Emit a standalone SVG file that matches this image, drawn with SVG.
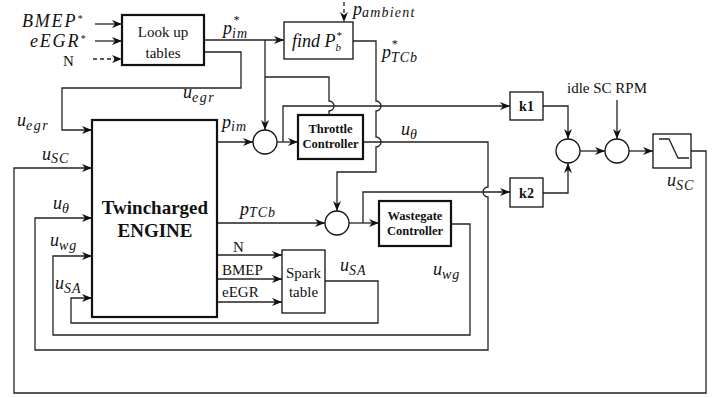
<svg xmlns="http://www.w3.org/2000/svg" width="716" height="398" viewBox="0 0 716 398">
<style>
.ln{fill:none;stroke:#222;stroke-width:1.3}
.dash{stroke-dasharray:4,3}
.bx{fill:#fff;stroke:#111;stroke-width:1.3}
.bxt{fill:#fff;stroke:#111;stroke-width:2.2}
.cir{fill:#fff;stroke:#111;stroke-width:1.3}
.m{font-family:"Liberation Serif",serif;font-style:italic;font-size:18px;fill:#111}
.s{font-size:14px}
.t{font-family:"Liberation Serif",serif;font-size:15px;fill:#111}
.b{font-family:"Liberation Serif",serif;font-weight:bold;fill:#111}
</style>
<defs>
<marker id="a" viewBox="0 0 10 10" refX="10" refY="5" markerWidth="10" markerHeight="10" markerUnits="userSpaceOnUse" orient="auto"><path d="M0,1 L10,5 L0,9 L3,5z" fill="#111"/></marker>
</defs>
<rect width="716" height="398" fill="#fff"/>
<g id="connectors">
<path class="ln" d="M95,24 H122" marker-end="url(#a)"/>
<path class="ln" d="M95,41 H122" marker-end="url(#a)"/>
<path class="ln dash" d="M93,59 H122" marker-end="url(#a)"/>
<path class="ln" d="M204,40 H284" marker-end="url(#a)"/>
<path class="ln" d="M265,40 V130" marker-end="url(#a)"/>
<path class="ln" d="M265,77 H329 V101 A5,5 0 0 1 329,111 V115"/>
<path class="ln" d="M204,52 H241 V88 H62 V130 H92" marker-end="url(#a)"/>
<path class="ln dash" d="M344,2 V22" marker-end="url(#a)"/>
<path class="ln" d="M353,41 H376 V101 A5,5 0 0 1 376,111 V137 A5,5 0 0 1 376,147 V172 H337 V211" marker-end="url(#a)"/>
<path class="ln" d="M217,142 H253" marker-end="url(#a)"/>
<path class="ln" d="M277,142 H298" marker-end="url(#a)"/>
<path class="ln" d="M283,142 V106 H510" marker-end="url(#a)"/>
<path class="ln" d="M363,142 H488 V187 A5,5 0 0 0 488,197 V350 H35 V218 H92" marker-end="url(#a)"/>
<path class="ln" d="M217,223 H325" marker-end="url(#a)"/>
<path class="ln" d="M349,223 H379" marker-end="url(#a)"/>
<path class="ln" d="M363,223 V192 H510" marker-end="url(#a)"/>
<path class="ln" d="M451,224 H470 V335 H53 V256 H92" marker-end="url(#a)"/>
<path class="ln" d="M217,255 H282" marker-end="url(#a)"/>
<path class="ln" d="M217,279 H282" marker-end="url(#a)"/>
<path class="ln" d="M217,302 H282" marker-end="url(#a)"/>
<path class="ln" d="M325,281 H378 V323 H71 V298 H92" marker-end="url(#a)"/>
<path class="ln" d="M543,106 H568 V139" marker-end="url(#a)"/>
<path class="ln" d="M543,193 H568 V163" marker-end="url(#a)"/>
<path class="ln" d="M580,151 H605" marker-end="url(#a)"/>
<path class="ln" d="M617,100 V139" marker-end="url(#a)"/>
<path class="ln" d="M629,151 H653" marker-end="url(#a)"/>
<path class="ln" d="M691,151 H706 V393 H14 V168 H92" marker-end="url(#a)"/>
</g>
<g id="lookup">
<rect class="bxt" x="122" y="15" width="82" height="50"/>
<text class="t" x="163" y="37" text-anchor="middle" font-size="17">Look up</text>
<text class="t" x="163" y="58" text-anchor="middle" font-size="17">tables</text>
</g>
<g id="findpb">
<rect class="bx" x="284" y="22" width="69" height="37"/>
<text class="m" x="292" y="47" font-size="15">find P<tspan font-size="11" dy="4">b</tspan><tspan font-size="11" dx="-5" dy="-12">*</tspan></text>
</g>
<g id="engine">
<rect class="bxt" x="92" y="120" width="125" height="197"/>
<text class="b" x="155" y="214" text-anchor="middle" font-size="19">Twincharged</text>
<text class="b" x="155" y="237" text-anchor="middle" font-size="19">ENGINE</text>
</g>
<g id="sum1"><circle class="cir" cx="265" cy="142" r="12"/></g>
<g id="throttle">
<rect class="bxt" x="298" y="115" width="65" height="44"/>
<text class="b" x="330.5" y="133" text-anchor="middle" font-size="12.5">Throttle</text>
<text class="b" x="330.5" y="148" text-anchor="middle" font-size="12.5">Controller</text>
</g>
<g id="sum2"><circle class="cir" cx="337" cy="223" r="12"/></g>
<g id="wastegate">
<rect class="bxt" x="379" y="201" width="72" height="45"/>
<text class="b" x="415" y="220" text-anchor="middle" font-size="12.5">Wastegate</text>
<text class="b" x="415" y="235" text-anchor="middle" font-size="12.5">Controller</text>
</g>
<g id="spark">
<rect class="bx" x="282" y="250" width="43" height="63"/>
<text class="t" x="303.5" y="278" text-anchor="middle">Spark</text>
<text class="t" x="303.5" y="297" text-anchor="middle">table</text>
</g>
<g id="k1">
<rect class="bx" x="510" y="92" width="33" height="28"/>
<text class="b" x="526.5" y="111" text-anchor="middle" font-size="14">k1</text>
</g>
<g id="k2">
<rect class="bx" x="510" y="178" width="33" height="29"/>
<text class="b" x="526.5" y="198" text-anchor="middle" font-size="14">k2</text>
</g>
<g id="sum3"><circle class="cir" cx="568" cy="151" r="12"/></g>
<g id="sum4"><circle class="cir" cx="617" cy="151" r="12"/></g>
<g id="saturation">
<rect class="bx" x="653" y="134" width="38" height="34"/>
<path class="ln" d="M659,139 H669 L678,158 H689"/>
</g>
<g id="labels">
<text class="m" x="22" y="27" font-size="16" letter-spacing="1.8">BMEP<tspan font-size="10" dy="-5">*</tspan></text>
<text class="m" x="30" y="47" font-size="16" letter-spacing="1.8">eEGR<tspan font-size="10" dy="-5">*</tspan></text>
<text class="t" x="63" y="66" font-size="14">N</text>
<text class="m" x="223" y="34">p<tspan class="s" dy="4" letter-spacing="1">im</tspan><tspan font-size="12" dx="-15" dy="-14">*</tspan></text>
<text class="m" x="183" y="98">u<tspan class="s" dy="4" letter-spacing="1.5">egr</tspan></text>
<text class="m" x="17" y="126">u<tspan class="s" dy="4" letter-spacing="1.5">egr</tspan></text>
<text class="m" x="353" y="15">p<tspan class="s" dy="2" letter-spacing="1.2">ambient</tspan></text>
<text class="m" x="382" y="58">p<tspan class="s" dy="4" letter-spacing="1">TCb</tspan><tspan font-size="12" dx="-27" dy="-14">*</tspan></text>
<text class="m" x="222" y="128">p<tspan class="s" dy="3" letter-spacing="1">im</tspan></text>
<text class="m" x="401" y="135">u<tspan class="s" dy="4">θ</tspan></text>
<text class="m" x="240" y="215">p<tspan class="s" dy="2" letter-spacing="1">TCb</tspan></text>
<text class="t" x="233" y="252">N</text>
<text class="t" x="222" y="275" font-size="14">BMEP</text>
<text class="t" x="222" y="297" font-size="14">eEGR</text>
<text class="m" x="340" y="271">u<tspan class="s" dy="4" letter-spacing="1">SA</tspan></text>
<text class="m" x="433" y="275">u<tspan class="s" dy="4" letter-spacing="1">wg</tspan></text>
<text class="t" x="607" y="93" text-anchor="middle">idle SC RPM</text>
<text class="m" x="667" y="186">u<tspan class="s" dy="4" letter-spacing="1">SC</tspan></text>
<text class="m" x="42" y="160">u<tspan class="s" dy="3" letter-spacing="1">SC</tspan></text>
<text class="m" x="53" y="209">u<tspan class="s" dy="4">θ</tspan></text>
<text class="m" x="50" y="246">u<tspan class="s" dy="4" letter-spacing="1">wg</tspan></text>
<text class="m" x="55" y="289">u<tspan class="s" dy="4" letter-spacing="1">SA</tspan></text>
</g>
</svg>
